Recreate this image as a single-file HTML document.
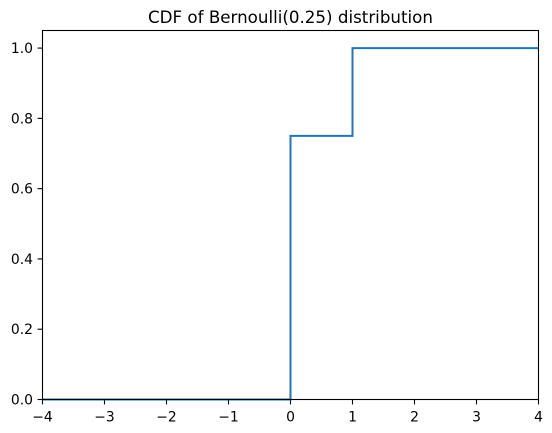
<!DOCTYPE html>
<html><head><meta charset="utf-8"><style>
html,body{margin:0;padding:0;background:#fff;}
svg{display:block;font-family:"DejaVu Sans","Liberation Sans",sans-serif;}
</style></head><body>
<svg id="chart" width="552" height="433" viewBox="0 0 552 433">
<text x="290.5" y="23" font-size="16.7" text-anchor="middle" fill="#000">CDF of Bernoulli(0.25) distribution</text>
<g id="ticks"></g>
<path id="line" fill="none" stroke="#1f77b4" stroke-width="2"></path>
<rect x="42.5" y="30.5" width="496" height="369" fill="none" stroke="#000" stroke-width="1.1"></rect>
</svg>
<script>
const xTicks = [-4,-3,-2,-1,0,1,2,3,4];
const yTicks = [0.0,0.2,0.4,0.6,0.8,1.0];
const stepX = [-4,0,1,4];
const stepY = [0,0.75,1,1];
const L=42.5,R=538.5,T=30.5,B=399.5;
const xs=v=>L+(v+4)/8*(R-L);
const ys=v=>B-(v/1.05)*(B-T);
const g=document.getElementById('ticks');
const NS='http://www.w3.org/2000/svg';
function mk(tag,attrs){const e=document.createElementNS(NS,tag);for(const k in attrs)e.setAttribute(k,attrs[k]);return e;}
xTicks.forEach(v=>{
  const l=mk('line',{x1:xs(v),x2:xs(v),y1:B,y2:B+4.9,stroke:'#000','stroke-width':1.1});
  
  
  g.appendChild(l);
  const t=mk('text',{x:xs(v),y:B+22,'font-size':13.9,'text-anchor':'middle'});
  
  
  t.textContent=v<0?'\u2212'+(-v):String(v);
  g.appendChild(t);
});
yTicks.forEach(v=>{
  const l=mk('line',{x1:L-4.9,x2:L,y1:ys(v),y2:ys(v),stroke:'#000','stroke-width':1.1});
  
  
  g.appendChild(l);
  const t=mk('text',{x:L-9.5,y:ys(v)+5,'font-size':13.9,'text-anchor':'end'});
  
  
  t.textContent=v.toFixed(1);
  g.appendChild(t);
});
let d='M'+xs(stepX[0])+','+ys(stepY[0]);
for(let i=1;i<stepX.length;i++){d+=' L'+xs(stepX[i])+','+ys(stepY[i-1])+' L'+xs(stepX[i])+','+ys(stepY[i]);}
document.getElementById('line').setAttribute('d',d);
</script>
</body></html>
